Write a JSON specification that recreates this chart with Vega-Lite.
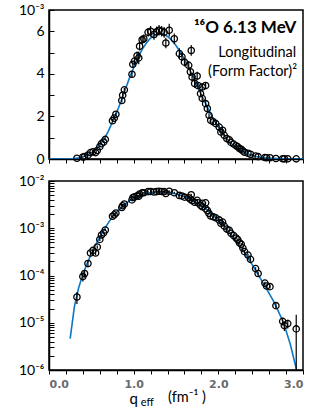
{
  "$schema": "https://vega.github.io/schema/vega-lite/v6.json",
  "padding": {"left": 17, "top": 2, "right": 8, "bottom": 0},
  "spacing": 6,
  "config": {
    "view": {"stroke": "#000", "strokeWidth": 1.5},
    "axis": {"domainColor": "#000", "domainWidth": 1.5, "tickColor": "#000", "grid": false, "labelColor": "#000"}
  },
  "datasets": {
    "pts": [
      {"q": 0.33, "v": 0.035, "e": 0.01},
      {"q": 0.40, "v": 0.095, "e": 0.02},
      {"q": 0.42, "v": 0.11, "e": 0.02},
      {"q": 0.46, "v": 0.18, "e": 0.03},
      {"q": 0.49, "v": 0.30, "e": 0.03},
      {"q": 0.52, "v": 0.34, "e": 0.03},
      {"q": 0.55, "v": 0.30, "e": 0.03},
      {"q": 0.57, "v": 0.40, "e": 0.03},
      {"q": 0.60, "v": 0.58, "e": 0.04},
      {"q": 0.62, "v": 0.72, "e": 0.04},
      {"q": 0.645, "v": 0.80, "e": 0.05},
      {"q": 0.665, "v": 0.92, "e": 0.05},
      {"q": 0.75, "v": 1.80, "e": 0.08},
      {"q": 0.77, "v": 1.92, "e": 0.08},
      {"q": 0.79, "v": 2.10, "e": 0.08},
      {"q": 0.86, "v": 2.75, "e": 0.1},
      {"q": 0.87, "v": 3.0, "e": 0.1},
      {"q": 0.89, "v": 3.25, "e": 0.1},
      {"q": 0.98, "v": 3.98, "e": 0.15},
      {"q": 0.99, "v": 4.45, "e": 0.15},
      {"q": 1.01, "v": 4.6, "e": 0.15},
      {"q": 1.04, "v": 4.85, "e": 0.2},
      {"q": 1.06, "v": 4.75, "e": 0.3},
      {"q": 1.07, "v": 5.3, "e": 0.2},
      {"q": 1.10, "v": 5.6, "e": 0.2},
      {"q": 1.12, "v": 5.65, "e": 0.2},
      {"q": 1.17, "v": 5.95, "e": 0.2},
      {"q": 1.20, "v": 6.0, "e": 0.25},
      {"q": 1.24, "v": 5.85, "e": 0.25},
      {"q": 1.27, "v": 5.97, "e": 0.25},
      {"q": 1.30, "v": 6.05, "e": 0.25},
      {"q": 1.33, "v": 6.0, "e": 0.25},
      {"q": 1.36, "v": 5.95, "e": 0.25},
      {"q": 1.38, "v": 5.45, "e": 0.25},
      {"q": 1.42, "v": 6.05, "e": 0.3},
      {"q": 1.48, "v": 5.65, "e": 0.25},
      {"q": 1.54, "v": 4.95, "e": 0.25},
      {"q": 1.57, "v": 4.8, "e": 0.2},
      {"q": 1.60, "v": 4.55, "e": 0.2},
      {"q": 1.65, "v": 4.4, "e": 0.2},
      {"q": 1.68, "v": 5.1, "e": 0.25},
      {"q": 1.67, "v": 4.1, "e": 0.2},
      {"q": 1.69, "v": 3.85, "e": 0.2},
      {"q": 1.72, "v": 3.55, "e": 0.2},
      {"q": 1.75, "v": 3.9, "e": 0.2},
      {"q": 1.76, "v": 3.45, "e": 0.15},
      {"q": 1.79, "v": 3.07, "e": 0.15},
      {"q": 1.81, "v": 3.38, "e": 0.15},
      {"q": 1.81, "v": 2.85, "e": 0.15},
      {"q": 1.85, "v": 3.45, "e": 0.15},
      {"q": 1.85, "v": 2.6, "e": 0.12},
      {"q": 1.87, "v": 2.37, "e": 0.12},
      {"q": 1.89, "v": 2.05, "e": 0.1},
      {"q": 1.91, "v": 1.82, "e": 0.1},
      {"q": 1.94, "v": 1.75, "e": 0.1},
      {"q": 1.97, "v": 1.66, "e": 0.08},
      {"q": 2.01, "v": 1.50, "e": 0.08},
      {"q": 2.03, "v": 1.27, "e": 0.08},
      {"q": 2.05, "v": 1.35, "e": 0.08},
      {"q": 2.07, "v": 1.11, "e": 0.06},
      {"q": 2.10, "v": 0.96, "e": 0.06},
      {"q": 2.13, "v": 0.90, "e": 0.05},
      {"q": 2.15, "v": 0.78, "e": 0.05},
      {"q": 2.18, "v": 0.70, "e": 0.05},
      {"q": 2.21, "v": 0.62, "e": 0.04},
      {"q": 2.23, "v": 0.57, "e": 0.04},
      {"q": 2.25, "v": 0.49, "e": 0.03},
      {"q": 2.27, "v": 0.46, "e": 0.03},
      {"q": 2.29, "v": 0.38, "e": 0.03},
      {"q": 2.31, "v": 0.32, "e": 0.03},
      {"q": 2.35, "v": 0.27, "e": 0.02},
      {"q": 2.38, "v": 0.22, "e": 0.02},
      {"q": 2.44, "v": 0.14, "e": 0.01},
      {"q": 2.47, "v": 0.11, "e": 0.01},
      {"q": 2.55, "v": 0.069, "e": 0.005},
      {"q": 2.57, "v": 0.06, "e": 0.005},
      {"q": 2.61, "v": 0.058, "e": 0.005},
      {"q": 2.68, "v": 0.023, "e": 0.003},
      {"q": 2.76, "v": 0.0107, "e": 0.002},
      {"q": 2.78, "v": 0.0087, "e": 0.002},
      {"q": 2.82, "v": 0.0096, "e": 0.002},
      {"q": 2.92, "v": 0.0074, "e": 0.0073}
    ],
    "curve": [
      {"q": 0, "v": 0}, {"q": 0.2, "v": 0}, {"q": 0.25, "v": 0.0046}, {"q": 0.30, "v": 0.022},
      {"q": 0.35, "v": 0.055}, {"q": 0.40, "v": 0.105}, {"q": 0.45, "v": 0.18}, {"q": 0.50, "v": 0.29},
      {"q": 0.55, "v": 0.44}, {"q": 0.60, "v": 0.65}, {"q": 0.65, "v": 0.92}, {"q": 0.70, "v": 1.3},
      {"q": 0.75, "v": 1.75}, {"q": 0.80, "v": 2.2}, {"q": 0.85, "v": 2.7}, {"q": 0.90, "v": 3.25},
      {"q": 0.95, "v": 3.8}, {"q": 1.00, "v": 4.3}, {"q": 1.05, "v": 4.75}, {"q": 1.10, "v": 5.15},
      {"q": 1.15, "v": 5.45}, {"q": 1.20, "v": 5.68}, {"q": 1.25, "v": 5.83}, {"q": 1.30, "v": 5.88},
      {"q": 1.35, "v": 5.86}, {"q": 1.40, "v": 5.76}, {"q": 1.45, "v": 5.58}, {"q": 1.50, "v": 5.33},
      {"q": 1.55, "v": 5.03}, {"q": 1.60, "v": 4.68}, {"q": 1.65, "v": 4.29}, {"q": 1.70, "v": 3.88},
      {"q": 1.75, "v": 3.45}, {"q": 1.80, "v": 3.02}, {"q": 1.85, "v": 2.6}, {"q": 1.90, "v": 2.2},
      {"q": 1.95, "v": 1.83}, {"q": 2.00, "v": 1.5}, {"q": 2.05, "v": 1.2}, {"q": 2.10, "v": 0.95},
      {"q": 2.15, "v": 0.74}, {"q": 2.20, "v": 0.57}, {"q": 2.25, "v": 0.43}, {"q": 2.30, "v": 0.32},
      {"q": 2.35, "v": 0.235}, {"q": 2.40, "v": 0.17}, {"q": 2.45, "v": 0.12}, {"q": 2.50, "v": 0.085},
      {"q": 2.55, "v": 0.06}, {"q": 2.60, "v": 0.042}, {"q": 2.65, "v": 0.029}, {"q": 2.70, "v": 0.019},
      {"q": 2.75, "v": 0.012}, {"q": 2.80, "v": 0.0068}, {"q": 2.85, "v": 0.0035}, {"q": 2.90, "v": 0.0015},
      {"q": 2.93, "v": 0.0009}, {"q": 2.97, "v": 0.0003}, {"q": 3.0, "v": 0}
    ]
  },
  "vconcat": [
    {
      "width": 254,
      "height": 149,
      "encoding": {
        "x": {"field": "q", "type": "quantitative", "scale": {"domain": [0, 3], "nice": false, "zero": false},
          "axis": {"title": null, "labels": false, "ticks": true, "tickSize": 4, "values": [0, 0.2, 0.4, 0.6, 0.8, 1, 1.2, 1.4, 1.6, 1.8, 2, 2.2, 2.4, 2.6, 2.8, 3]}},
        "y": {"field": "v", "type": "quantitative", "scale": {"domain": [0, 7], "nice": false},
          "axis": {"title": null, "values": [0, 1, 2, 3, 4, 5, 6, 7], "tickSize": -5, "labelPadding": 10,
            "labelFont": "Lato", "labelFontSize": 14,
            "labelExpr": "datum.value == 7 ? '10⁻³' : (datum.value % 2 == 0 ? datum.label : '')"}}
      },
      "layer": [
        {"data": {"name": "curve"}, "mark": {"type": "line", "color": "#0A78C8", "strokeWidth": 1.6, "clip": true}},
        {"data": {"name": "pts"}, "mark": {"type": "errorbar", "color": "#000", "thickness": 1.2},
          "encoding": {"yError": {"field": "e"}}},
        {"data": {"name": "pts"}, "mark": {"type": "point", "shape": "circle", "filled": false, "color": "#000", "size": 40, "strokeWidth": 1.3, "opacity": 1}},
        {"data": {"values": [{"q": 2.92, "v": 6.14, "t": "¹⁶O  6.13 MeV"}]},
          "mark": {"type": "text", "align": "right", "baseline": "middle", "font": "Lato", "fontWeight": "bold", "fontSize": 17, "color": "#000"},
          "encoding": {"text": {"field": "t"}}},
        {"data": {"values": [{"q": 2.92, "v": 4.96, "t": "Longitudinal"}, {"q": 2.93, "v": 4.07, "t": "(Form Factor)²"}]},
          "mark": {"type": "text", "align": "right", "baseline": "middle", "font": "Lato", "fontSize": 14.5, "color": "#000"},
          "encoding": {"text": {"field": "t"}}}
      ]
    },
    {
      "width": 254,
      "height": 189,
      "encoding": {
        "x": {"field": "q", "type": "quantitative", "scale": {"domain": [0, 3], "nice": false, "zero": false},
          "axis": {"title": null, "tickSize": 4, "labelPadding": 4, "format": ".1f",
            "labelFont": "DejaVu Sans", "labelFontWeight": "bold", "labelFontSize": 11, "labelColor": "#6b6b6b",
            "values": [0, 0.2, 0.4, 0.6, 0.8, 1, 1.2, 1.4, 1.6, 1.8, 2, 2.2, 2.4, 2.6, 2.8, 3],
            "labelExpr": "datum.value % 1 == 0 ? datum.label : ''"}},
        "y": {"field": "v", "type": "quantitative", "scale": {"type": "log", "domain": [0.001, 10], "nice": false},
          "axis": {"title": null, "tickSize": -5, "labelPadding": 10, "labelFont": "Lato", "labelFontSize": 14,
            "values": [0.001, 0.002, 0.003, 0.004, 0.005, 0.006, 0.007, 0.008, 0.009, 0.01, 0.02, 0.03, 0.04, 0.05, 0.06, 0.07, 0.08, 0.09, 0.1, 0.2, 0.3, 0.4, 0.5, 0.6, 0.7, 0.8, 0.9, 1, 2, 3, 4, 5, 6, 7, 8, 9, 10],
            "labelExpr": "datum.value == 0.001 ? '10⁻⁶' : datum.value == 0.01 ? '10⁻⁵' : datum.value == 0.1 ? '10⁻⁴' : datum.value == 1 ? '10⁻³' : datum.value == 10 ? '10⁻²' : ''"}}
      },
      "layer": [
        {"data": {"name": "curve"}, "transform": [{"filter": "datum.v >= 0.0009"}],
          "mark": {"type": "line", "color": "#0A78C8", "strokeWidth": 1.6, "clip": true}},
        {"data": {"name": "pts"}, "mark": {"type": "errorbar", "color": "#000", "thickness": 1.2, "clip": true},
          "encoding": {"yError": {"field": "e"}}},
        {"data": {"name": "pts"}, "mark": {"type": "point", "shape": "circle", "filled": false, "color": "#000", "size": 40, "strokeWidth": 1.3, "opacity": 1}},
        {"data": {"values": [{"q": 1.0, "v": 0.00024, "t": "q"}]},
          "mark": {"type": "text", "align": "center", "baseline": "middle", "font": "Lato", "fontSize": 15, "color": "#000"},
          "encoding": {"text": {"field": "t"}}},
        {"data": {"values": [{"q": 1.16, "v": 0.0002, "t": "eff"}]},
          "mark": {"type": "text", "align": "center", "baseline": "middle", "font": "Lato", "fontSize": 11, "color": "#000"},
          "encoding": {"text": {"field": "t"}}},
        {"data": {"values": [{"q": 1.63, "v": 0.00026, "t": "(fm⁻¹ )"}]},
          "mark": {"type": "text", "align": "center", "baseline": "middle", "font": "Lato", "fontSize": 14.5, "color": "#000"},
          "encoding": {"text": {"field": "t"}}}
      ]
    }
  ]
}
